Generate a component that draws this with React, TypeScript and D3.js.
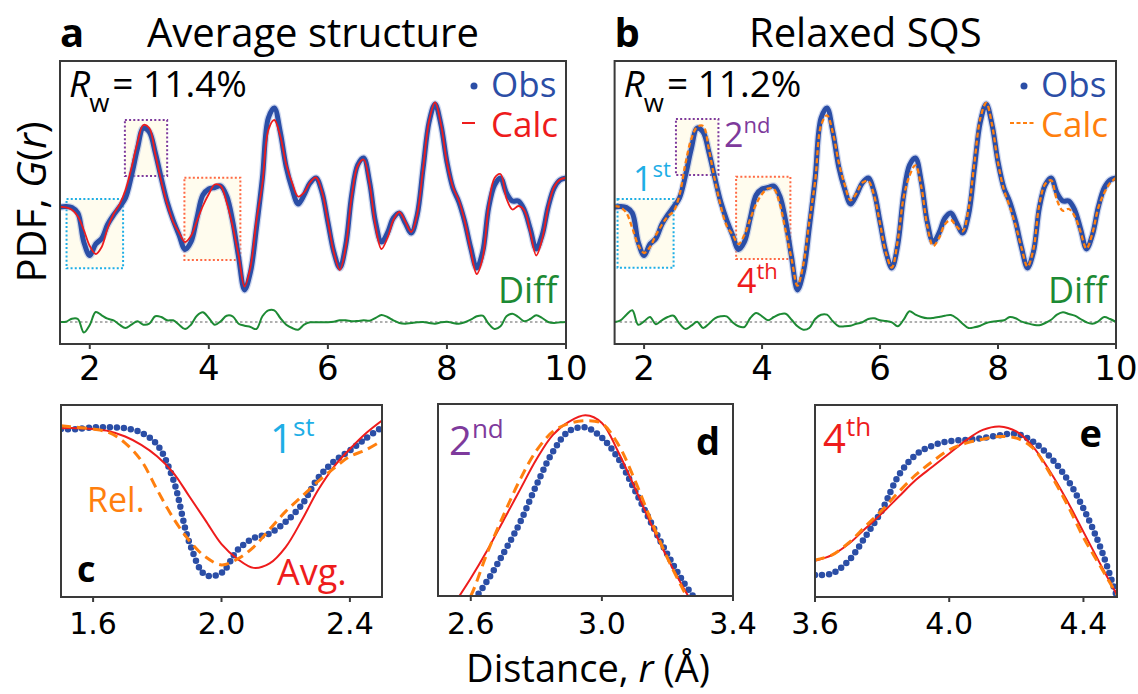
import * as d3 from 'd3';
import React from 'react';

// r grids (Å)
const rMain = d3.range(0, 86).map(i => 1.5 + i * 0.1);
const rC = d3.range(0, 21).map(i => 1.5 + i * 0.05);
const rD = d3.range(0, 16).map(i => 2.55 + i * 0.05);
const rE = d3.range(0, 19).map(i => 3.6 + i * 0.05);

// G(r), r = 1.5 .. 10.0
const obsMain = [
  0.0, 0.05, -0.05, -0.6, -3.5, -4.85, -3.7, -3.15, -1.75, -0.8,
  0.0, 0.9, 3.1, 5.8, 7.9, 7.5, 5.45, 2.9, 0.5, -1.3,
  -2.8, -4.25, -3.5, -1.1, 1.2, 1.8, 1.95, 2.1, 1.1, -1.4,
  -5.0, -8.3, -6.5, -2.1, 2.9, 8.9, 9.9, 7.5, 4.0, 1.8,
  0.3, 1.2, 2.4, 2.9, 1.5, -1.5, -4.5, -6.1, -3.8, 1.2,
  4.2, 4.9, 2.5, -1.5, -3.5, -2.6, -1.1, -0.6, -1.6, -2.6,
  -0.8, 3.9, 8.5, 10.3, 8.2, 4.5, 1.9, 0.5, -1.5, -4.1,
  -6.1, -4.5, -0.1, 2.2, 2.9, 1.4, 0.6, 0.6, -0.3, -2.2,
  -4.2, -2.8, 0.0, 1.9, 2.7, 2.9,
];
const avgMain = [
  0.0, -0.03, -0.28, -0.95, -2.3, -3.9, -4.7, -4.0, -2.1, -0.7,
  0.26, 1.7, 3.9, 6.4, 8.2, 7.9, 5.3, 2.6, 0.3, -1.5,
  -2.55, -3.5, -2.9, -1.4, 0.1, 1.3, 2.25, 2.1, 0.45, -1.9,
  -4.85, -7.95, -6.0, -1.4, 2.35, 7.7, 8.7, 7.1, 4.25, 2.4,
  1.05, 1.45, 2.45, 2.95, 1.55, -1.45, -4.55, -6.3, -4.0, 1.1,
  4.1, 4.75, 2.35, -1.9, -4.2, -3.1, -1.3, -0.5, -1.45, -2.5,
  -0.75, 3.9, 8.6, 10.45, 8.25, 4.45, 2.0, 0.65, -1.45, -4.35,
  -6.7, -5.1, 0.05, 2.9, 3.3, 0.85, -0.25, 0.1, -0.35, -2.5,
  -4.85, -3.2, 0.0, 2.0, 2.75, 2.9,
];
const relMain = [
  0.08, -0.03, -0.6, -2.1, -3.8, -4.6, -4.0, -2.8, -1.8, -0.95,
  -0.42, 1.2, 4.3, 6.8, 8.0, 8.1, 5.7, 2.7, 0.1, -1.87,
  -2.77, -3.7, -2.8, -1.2, 0.3, 1.3, 1.85, 1.8, 0.3, -2.4,
  -5.2, -7.87, -5.73, -1.5, 2.6, 8.17, 9.17, 7.43, 4.43, 2.23,
  0.67, 1.37, 2.43, 2.6, 1.13, -1.67, -4.6, -6.07, -3.37, 0.97,
  3.13, 4.17, 2.0, -1.87, -3.9, -3.1, -1.73, -1.3, -1.97, -2.43,
  -0.2, 4.43, 8.87, 10.4, 8.17, 4.4, 1.73, 0.0, -1.87, -4.13,
  -5.97, -4.23, 0.23, 2.3, 2.67, 0.67, -0.37, -0.2, -0.93, -2.5,
  -4.17, -2.63, -0.07, 1.4, 2.4, 2.9,
];
const diffAvg = [
  0, 0.03, 0.33, 0.3, -1.05, -0.3, 1.0, 0.67, 0.33, 0.17,
  -0.27, -0.6, -0.27, 0.07, -0.27, -0.17, 0.57, 0.5, 0.17, 0.17,
  -0.27, -0.7, -0.27, 0.63, 0.97, 0.4, -0.27, 0.07, 0.63, 0.57,
  -0.17, -0.37, -0.5, -0.7, 0.57, 1.17, 1.17, 0.4, -0.27, -0.6,
  -0.77, -0.27, -0.03, -0.03, -0.03, -0.03, 0.03, 0.17, 0.17, 0.07,
  0.1, 0.17, 0.13, 0.4, 0.7, 0.5, 0.17, -0.1, -0.17, -0.1,
  -0.03, 0, -0.1, -0.17, -0.03, 0.03, -0.1, -0.17, -0.03, 0.23,
  0.57, 0.63, -0.17, -0.7, -0.43, 0.57, 0.83, 0.5, 0.07, 0.3,
  0.67, 0.4, 0, -0.1, -0.03, 0,
];
const diffRel = [
  0, 0.17, 0.73, 1.17, -0.27, 0.07, 0.5, -0.23, 0.17, 0.5,
  0.63, -0.17, -0.7, -0.37, 0.03, -0.6, -0.17, 0.37, 0.57, 0.57,
  -0.03, -0.43, -0.5, 0.4, 0.9, 0.57, 0.17, 0.5, 0.77, 0.83,
  0.23, -0.43, -0.77, -0.6, 0.3, 0.73, 0.73, 0.07, -0.43, -0.43,
  -0.37, -0.17, -0.03, 0.3, 0.37, 0.17, 0.1, -0.03, -0.43, 0.23,
  1.07, 0.73, 0.5, 0.37, 0.4, 0.5, 0.63, 0.7, 0.37, -0.17,
  -0.6, -0.53, -0.37, -0.1, 0.03, 0.1, 0.17, 0.5, 0.37, 0.03,
  -0.13, -0.27, -0.33, -0.1, 0.23, 0.73, 0.97, 0.8, 0.63, 0.3,
  -0.03, -0.17, 0.07, 0.5, 0.3, 0,
];

// zoomed shells
const obsC = [-0.03, -0.03, 0.03, 0.03, 0.0, -0.15, -0.56, -1.74, -3.85, -4.94, -4.87, -4.1, -3.7, -3.54, -3.15, -2.58, -1.69, -1.12, -0.75, -0.34, 0.03];
const avgC = [0.0, 0.0, -0.03, -0.1, -0.28, -0.56, -0.95, -1.5, -2.3, -3.1, -3.9, -4.4, -4.7, -4.55, -4.0, -3.1, -2.1, -1.3, -0.7, -0.17, 0.26];
const relC = [0.08, 0.03, -0.03, -0.15, -0.5, -1.09, -2.08, -3.03, -3.79, -4.33, -4.6, -4.4, -4.0, -3.4, -2.8, -2.3, -1.8, -1.35, -0.95, -0.73, -0.42];

const obsD = [0.4, 1.0, 1.9, 3.0, 4.2, 5.68, 7.0, 7.83, 7.97, 7.57, 6.74, 5.5, 4.2, 2.95, 1.83, 0.9];
const avgD = [1.0, 2.0, 3.1, 4.3, 5.5, 6.7, 7.67, 8.2, 8.45, 8.15, 7.0, 5.6, 4.15, 2.8, 1.6, 0.5];
const relD = [0.2, 1.3, 3.0, 4.5, 5.9, 7.05, 7.8, 8.13, 8.24, 8.13, 7.3, 5.9, 4.3, 2.8, 1.5, 0.3];

const obsE = [-4.3, -4.24, -3.66, -2.57, -1.35, 0.23, 1.14, 1.56, 1.76, 1.82, 1.9, 2.03, 2.09, 1.74, 1.06, 0.08, -1.29, -3.03, -5.3];
const avgE = [-3.66, -3.4, -2.9, -2.2, -1.5, -0.75, 0.0, 0.6, 1.2, 1.8, 2.27, 2.43, 2.2, 1.5, 0.4, -0.9, -2.35, -3.8, -5.2];
const relE = [-3.63, -3.4, -2.85, -2.1, -1.36, -0.53, 0.23, 0.84, 1.37, 1.67, 1.85, 1.97, 1.9, 1.44, 0.3, -1.06, -2.6, -3.9, -5.2];

// highlighted shells: [r0, r1, gTop, gBottom]
const boxesA = [[1.61, 2.56, 0.8, -6.13], [2.59, 3.3, 8.7, 3.1], [3.59, 4.53, 2.93, -5.3]];
const boxesB = [[1.55, 2.5, 0.8, -6.07], [2.54, 3.26, 8.8, 3.2], [3.56, 4.48, 3.03, -5.2]];

const mainTicks = [2, 4, 6, 8, 10];
const DIFF_OFF = -11.5;

const BLUE = '#2b4ea6';
const RED = '#ee1c1c';
const ORANGE = '#ff7f0e';
const GREEN = '#1d8a34';
const CYAN = '#1eaee6';
const PURPLE = '#7e3a9c';
const BOXRED = '#ff6a45';
const boxColors = [CYAN, PURPLE, BOXRED];
const FRAME = '#3a3a3a';
const SANS = "'Open Sans', sans-serif";
const TICKF = "'DejaVu Sans', sans-serif";

const yTop = d3.scaleLinear().domain([-13.7, 14.6]).range([344, 61]);

function pathOf(xs: number[], ys: number[], x: (v: number) => number, y: (v: number) => number) {
  return d3.line<number>()
    .x((_, i) => x(xs[i]))
    .y(d => y(d))
    .curve(d3.curveCatmullRom.alpha(0.5))(ys) ?? '';
}

type MainProps = {
  id: string; x0: number; x1: number; calc: number[]; diff: number[]; boxes: number[][];
  dashed: boolean; calcColor: string; letter: string; title: string; rw: string;
  children?: React.ReactNode;
};

function MainPanel(p: MainProps) {
  const y0 = 61, y1 = 344;
  const x = d3.scaleLinear().domain([1.5, 10]).range([p.x0, p.x1]);
  const obsPath = pathOf(rMain, obsMain, x, yTop);
  const calcPath = pathOf(rMain, p.calc, x, yTop);
  const diffPath = pathOf(rMain, p.diff.map(d => d + DIFF_OFF), x, yTop);
  return (
    <g>
      <defs>
        <clipPath id={p.id}><rect x={p.x0} y={y0} width={p.x1 - p.x0} height={y1 - y0} /></clipPath>
      </defs>
      <text x={p.x0} y={47} fontFamily={SANS} fontWeight={700} fontSize={40}>{p.letter}</text>
      <text x={(p.x0 + p.x1) / 2} y={47} textAnchor="middle" fontFamily={SANS} fontSize={40}>{p.title}</text>
      {p.boxes.map((b, i) => (
        <rect key={i} x={x(b[0])} y={yTop(b[2])} width={x(b[1]) - x(b[0])} height={yTop(b[3]) - yTop(b[2])}
          fill="#fffcee" stroke={boxColors[i]} strokeWidth={2} strokeDasharray="2 2.2" />
      ))}
      <g clipPath={`url(#${p.id})`}>
        <line x1={p.x0} x2={p.x1} y1={yTop(DIFF_OFF)} y2={yTop(DIFF_OFF)} stroke="#b0b0b0" strokeWidth={2} strokeDasharray="2.5 2.5" />
        <path d={diffPath} fill="none" stroke={GREEN} strokeWidth={2} />
        <path d={obsPath} fill="none" stroke="#9fb2e0" strokeOpacity={0.5} strokeWidth={7.5} />
        <path d={obsPath} fill="none" stroke={BLUE} strokeWidth={5} />
        <path d={calcPath} fill="none" stroke={p.calcColor} strokeWidth={p.dashed ? 2.3 : 1.8}
          strokeDasharray={p.dashed ? '5 3' : undefined} />
      </g>
      <rect x={p.x0} y={y0} width={p.x1 - p.x0} height={y1 - y0} fill="none" stroke={FRAME} strokeWidth={2} />
      {mainTicks.map(t => (
        <g key={t}>
          <line x1={x(t)} x2={x(t)} y1={y1} y2={y1 + 5} stroke={FRAME} strokeWidth={2} />
          <text x={x(t)} y={380} textAnchor="middle" fontFamily={TICKF} fontSize={34}>{t}</text>
        </g>
      ))}
      <text x={p.x0 + 9} y={97} fontFamily={SANS} fontSize={37}>
        <tspan fontStyle="italic">R</tspan>
        <tspan fontSize={26} dy={15} dx={-1}>w</tspan>
        <tspan dy={-15} dx={3}>= {p.rw}</tspan>
      </text>
      <circle cx={p.x1 - 92} cy={86} r={3.5} fill={BLUE} />
      <text x={p.x1 - 75} y={97} fontFamily={SANS} fontSize={35} fill={BLUE}>Obs</text>
      <line x1={p.x1 - (p.dashed ? 106 : 104)} x2={p.x1 - (p.dashed ? 80 : 91)} y1={123} y2={123}
        stroke={p.calcColor} strokeWidth={2} strokeDasharray={p.dashed ? '4 2.5' : undefined} />
      <text x={p.x1 - 75} y={137} fontFamily={SANS} fontSize={35} fill={p.calcColor}>Calc</text>
      <text x={p.x1 - 68} y={303} fontFamily={SANS} fontSize={36} fill={GREEN}>Diff</text>
      {p.children}
    </g>
  );
}

type InsetProps = {
  id: string; x0: number; x1: number; y0: number; y1: number;
  rDom: [number, number]; gDom: [number, number]; r: number[];
  obs: number[]; avg: number[]; rel: number[]; ticks: number[];
  children?: React.ReactNode;
};

function Inset(p: InsetProps) {
  const x = d3.scaleLinear().domain(p.rDom).range([p.x0, p.x1]);
  const y = d3.scaleLinear().domain(p.gDom).range([p.y1, p.y0]);
  const fmt = d3.format('.1f');
  return (
    <g>
      <defs>
        <clipPath id={p.id}><rect x={p.x0} y={p.y0} width={p.x1 - p.x0} height={p.y1 - p.y0} /></clipPath>
      </defs>
      <g clipPath={`url(#${p.id})`}>
        <path d={pathOf(p.r, p.obs, x, y)} fill="none" stroke={BLUE} strokeWidth={6.5}
          strokeLinecap="round" strokeDasharray="0 7" />
        <path d={pathOf(p.r, p.avg, x, y)} fill="none" stroke={RED} strokeWidth={2} />
        <path d={pathOf(p.r, p.rel, x, y)} fill="none" stroke={ORANGE} strokeWidth={3} strokeDasharray="10 6" />
      </g>
      <rect x={p.x0} y={p.y0} width={p.x1 - p.x0} height={p.y1 - p.y0} fill="none" stroke={FRAME} strokeWidth={2} />
      {p.ticks.map(t => (
        <g key={t}>
          <line x1={x(t)} x2={x(t)} y1={p.y1} y2={p.y1 + 5} stroke={FRAME} strokeWidth={2} />
          <text x={x(t)} y={634} textAnchor="middle" fontFamily={TICKF} fontSize={30}>{fmt(t)}</text>
        </g>
      ))}
      {p.children}
    </g>
  );
}

function Ordinal({ x, y, n, sup, color, size, supSize, rise }: {
  x: number; y: number; n: string; sup: string; color: string; size: number; supSize: number; rise: number;
}) {
  return (
    <text x={x} y={y} fontFamily={SANS} fontSize={size} fill={color}>
      {n}<tspan fontSize={supSize} dy={-rise}>{sup}</tspan>
    </text>
  );
}

export default function App() {
  return (
    <svg width={1138} height={694} style={{ position: 'absolute', left: 0, top: 0, background: '#fff' }}>
      <text transform="translate(46,202) rotate(-90)" textAnchor="middle" fontFamily={SANS} fontSize={40}>
        PDF, <tspan fontStyle="italic">G</tspan>(<tspan fontStyle="italic">r</tspan>)
      </text>

      <MainPanel id="clipA" x0={60} x1={566} calc={avgMain} diff={diffAvg} boxes={boxesA}
        dashed={false} calcColor={RED} letter="a" title="Average structure" rw="11.4%" />

      <MainPanel id="clipB" x0={614.6} x1={1116} calc={relMain} diff={diffRel} boxes={boxesB}
        dashed={true} calcColor={ORANGE} letter="b" title="Relaxed SQS" rw="11.2%">
        <Ordinal x={633} y={191} n="1" sup="st" color={CYAN} size={34} supSize={22} rise={14} />
        <Ordinal x={724} y={147} n="2" sup="nd" color={PURPLE} size={34} supSize={22} rise={14} />
        <Ordinal x={737} y={293} n="4" sup="th" color={RED} size={34} supSize={22} rise={14} />
      </MainPanel>

      <Inset id="clipC" x0={61} x1={382} y0={405} y1={597} rDom={[1.5, 2.5]} gDom={[-5.68, 0.78]}
        r={rC} obs={obsC} avg={avgC} rel={relC} ticks={[1.6, 2.0, 2.4]}>
        <text x={77} y={582} fontFamily={SANS} fontWeight={700} fontSize={36}>c</text>
        <Ordinal x={270} y={453} n="1" sup="st" color={CYAN} size={40} supSize={26} rise={17} />
        <text x={87} y={512} fontFamily={SANS} fontSize={34} fill={ORANGE}>Rel.</text>
        <text x={277} y={585} fontFamily={SANS} fontSize={36} fill={RED}>Avg.</text>
      </Inset>

      <Inset id="clipD" x0={438} x1={733} y0={404} y1={596} rDom={[2.5, 3.4]} gDom={[1.3, 8.9]}
        r={rD} obs={obsD} avg={avgD} rel={relD} ticks={[2.6, 3.0, 3.4]}>
        <Ordinal x={449} y={455} n="2" sup="nd" color={PURPLE} size={40} supSize={26} rise={17} />
        <text x={720} y={455} textAnchor="end" fontFamily={SANS} fontWeight={700} fontSize={38}>d</text>
      </Inset>

      <Inset id="clipE" x0={815} x1={1117} y0={405} y1={597} rDom={[3.6, 4.5]} gDom={[-5.3, 3.4]}
        r={rE} obs={obsE} avg={avgE} rel={relE} ticks={[3.6, 4.0, 4.4]}>
        <Ordinal x={823} y={453} n="4" sup="th" color={RED} size={40} supSize={26} rise={17} />
        <text x={1102} y={447} textAnchor="end" fontFamily={SANS} fontWeight={700} fontSize={38}>e</text>
      </Inset>

      <text x={588} y={682} textAnchor="middle" fontFamily={SANS} fontSize={38}>
        Distance, <tspan fontStyle="italic">r</tspan> (Å)
      </text>
    </svg>
  );
}
